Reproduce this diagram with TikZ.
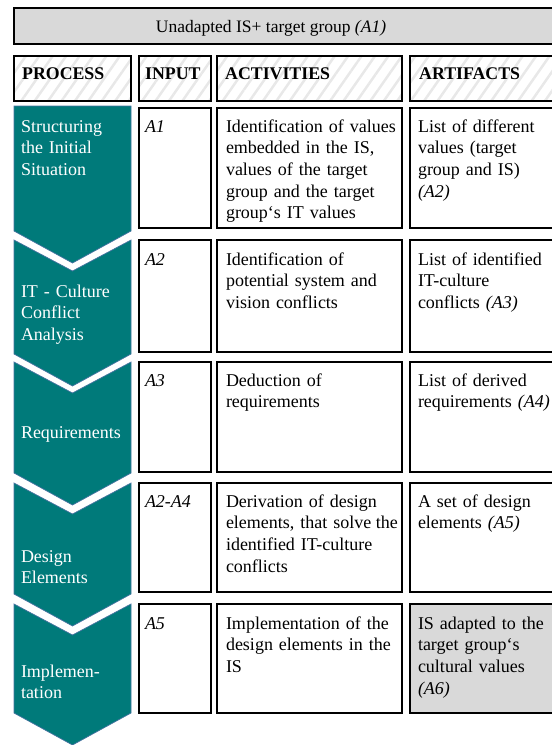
\documentclass[tikz,border=0pt]{standalone}
\usepackage{fontspec}
\setmainfont{Liberation Serif}
\usetikzlibrary{patterns.meta}
\definecolor{chevfill}{RGB}{0,122,122}
\definecolor{chevline}{RGB}{70,115,160}
\definecolor{boxgray}{RGB}{217,217,217}
\newcommand{\cellbox}[6]{%
  \node[#6, anchor=north west, inner sep=0pt, outer sep=0pt,
        minimum width={(#4-#2)*1pt}, minimum height={(#5-#3)*1pt}] (#1) at (#2,#3) {};}
\begin{document}
\begin{tikzpicture}[x=1pt,y=-1pt,
  cell/.style={draw=black, line width=1.1pt, fill=white},
  graycell/.style={draw=black, line width=1.1pt, fill=boxgray},
  hdrcell/.style={draw=black, line width=1.1pt,
     pattern={Lines[angle=55,distance=11pt,line width=2.5pt]}, pattern color=black!9},
  chev/.style={fill=chevfill, draw=chevline, line width=0.7pt},
  txt/.style={anchor=base west, inner sep=0pt, outer sep=0pt, align=left, text width=200pt,
     font=\fontsize{18}{21.7}\selectfont},
  wtxt/.style={txt, text=white},
  htxt/.style={anchor=base west, inner sep=0pt, font=\fontsize{17.8}{21.7}\selectfont\bfseries},
]
\path[use as bounding box] (0,0) rectangle (552,745);
\clip (0,0) rectangle (552,745);

% top box
\cellbox{top}{14}{8}{570}{44}{graycell}
\node[anchor=base, inner sep=0pt, font=\fontsize{17.5}{21.7}\selectfont] (toptxt) at (271,32) {Unadapted IS+ target group \textit{(A1)}};

% header row
\cellbox{hp}{14}{56}{131}{101}{hdrcell}
\cellbox{hi}{139}{56}{211}{101}{hdrcell}
\cellbox{ha}{217}{56}{402}{101}{hdrcell}
\cellbox{hr}{410}{56}{570}{101}{hdrcell}
\node[htxt] (hpt) at (22,79) {PROCESS};
\node[htxt] (hit) at (145,79) {INPUT};
\node[htxt] (hat) at (225,79) {ACTIVITIES};
\node[htxt] (hrt) at (419,79) {ARTIFACTS};

% chevrons
\draw[chev] (14,106) -- (131,106) -- (131,231) -- (72.5,263) -- (14,231) -- cycle;
\draw[chev] (14,240) -- (72.5,271) -- (131,240) -- (131,354) -- (72.5,386) -- (14,354) -- cycle;
\draw[chev] (14,362) -- (72.5,393) -- (131,362) -- (131,473) -- (72.5,505) -- (14,473) -- cycle;
\draw[chev] (14,483) -- (72.5,514) -- (131,483) -- (131,594) -- (72.5,626) -- (14,594) -- cycle;
\draw[chev] (14,604) -- (72.5,635) -- (131,604) -- (131,713) -- (72.5,745) -- (14,713) -- cycle;

\node[wtxt] (c1) at (21,132) {Structuring\\the Initial\\Situation};
\node[wtxt] (c2) at (21,297) {IT - Culture\\Conflict\\Analysis};
\node[wtxt] (c3) at (21,438) {Requirements};
\node[wtxt] (c4) at (21,562) {Design\\Elements};
\node[wtxt] (c5) at (21,677) {Implemen-\\tation};

% row 1
\cellbox{i1}{139}{108}{211}{228}{cell}
\cellbox{a1}{217}{108}{402}{228}{cell}
\cellbox{r1}{410}{108}{570}{228}{cell}
\node[txt] (i1t) at (145,132) {\textit{A1}};
\node[txt] (a1t) at (226,132) {Identification of values\\embedded in the IS,\\values of the target\\group and the target\\group‘s IT values};
\node[txt] (r1t) at (418,132) {List of different\\values (target\\group and IS)\\\textit{(A2)}};

% row 2
\cellbox{i2}{139}{240}{211}{352}{cell}
\cellbox{a2}{217}{240}{402}{352}{cell}
\cellbox{r2}{410}{240}{570}{352}{cell}
\node[txt] (i2t) at (145,265) {\textit{A2}};
\node[txt] (a2t) at (226,265) {Identification of\\potential system and\\vision conflicts};
\node[txt] (r2t) at (418,265) {List of identified\\IT-culture\\conflicts \textit{(A3)}};

% row 3
\cellbox{i3}{139}{362}{211}{472}{cell}
\cellbox{a3}{217}{362}{402}{472}{cell}
\cellbox{r3}{410}{362}{570}{472}{cell}
\node[txt] (i3t) at (145,386) {\textit{A3}};
\node[txt] (a3t) at (226,386) {Deduction of\\requirements};
\node[txt] (r3t) at (418,386) {List of derived\\requirements \textit{(A4)}};

% row 4
\cellbox{i4}{139}{483}{211}{592}{cell}
\cellbox{a4}{217}{483}{402}{592}{cell}
\cellbox{r4}{410}{483}{570}{592}{cell}
\node[txt] (i4t) at (145,507) {\textit{A2-A4}};
\node[txt] (a4t) at (226,507) {Derivation of design\\elements, that solve\hspace{0.25em}the\\identified IT-culture\\conflicts};
\node[txt] (r4t) at (418,507) {A set of design\\elements \textit{(A5)}};

% row 5
\cellbox{i5}{139}{604}{211}{713}{cell}
\cellbox{a5}{217}{604}{402}{713}{cell}
\cellbox{r5}{410}{604}{570}{713}{graycell}
\node[txt] (i5t) at (145,629) {\textit{A5}};
\node[txt] (a5t) at (226,629) {Implementation of the\\design elements in the\\IS};
\node[txt] (r5t) at (418,629) {IS adapted to the\\target group‘s\\cultural values\\\textit{(A6)}};
\end{tikzpicture}
\end{document}
